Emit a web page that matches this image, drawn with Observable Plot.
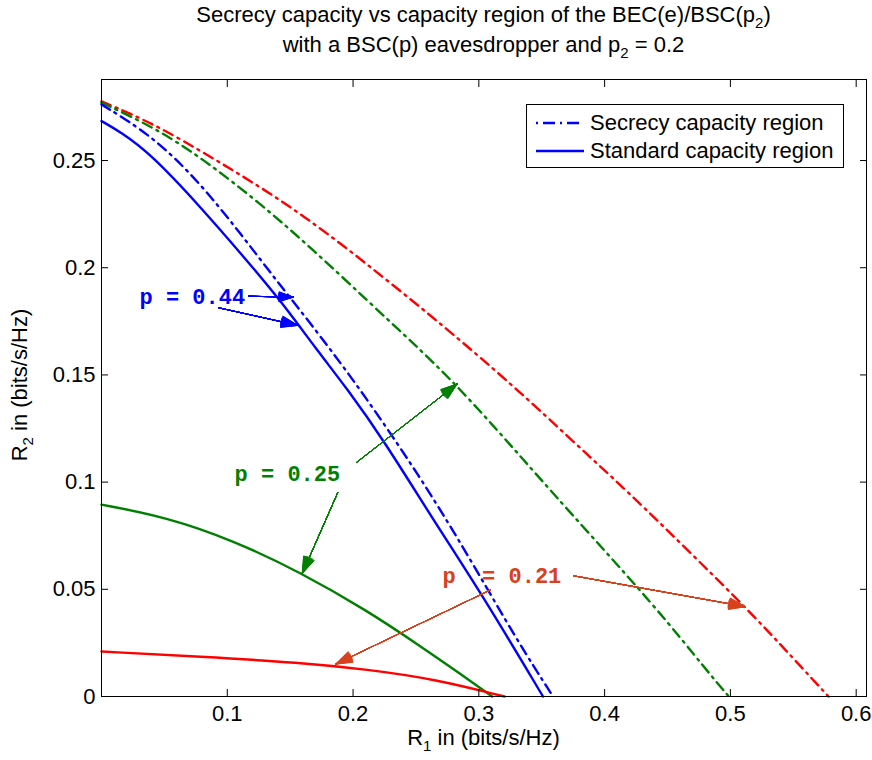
<!DOCTYPE html>
<html>
<head>
<meta charset="utf-8">
<script src="https://cdn.jsdelivr.net/npm/d3@7"></script>
<script src="https://cdn.jsdelivr.net/npm/@observablehq/plot@0.6"></script>
<style>
  body { margin: 0; background: #fff; }
  #wrap { position: relative; width: 872px; height: 760px; font-family: "Liberation Sans", Arial, sans-serif; color: #000; background: #fff; overflow: hidden; }
  .t { position: absolute; left: 0; width: 967px; text-align: center; font-size: 22px; line-height: 24px; white-space: nowrap; }
  sub { font-size: 15px; vertical-align: -6px; line-height: 0; }
  #chart { position: absolute; left: 0; top: 62px; }
  #legend { position: absolute; left: 526px; top: 104px; width: 318px; height: 64px; border: 1px solid #000; background: #fff; box-sizing: border-box; }
  #legend .row { position: absolute; left: 0; height: 26px; line-height: 26px; font-size: 22px; white-space: nowrap; }
  #legend svg { position: absolute; left: 9px; top: 7px; }
  #legend span { position: absolute; left: 63px; top: 0; }
  #ylab { position: absolute; left: -80px; top: 373px; width: 200px; height: 24px; line-height: 24px; text-align: center; font-size: 22px; transform: rotate(-90deg); transform-origin: 50% 50%; white-space: nowrap; }
</style>
</head>
<body>
<div id="wrap">
  <div class="t" style="top:3px">Secrecy capacity vs capacity region of the BEC(e)/BSC(p<sub>2</sub>)</div>
  <div class="t" style="top:33px">with a BSC(p) eavesdropper and p<sub>2</sub> = 0.2</div>
  <div id="chart"></div>
  <div class="t" style="top:726px">R<sub>1</sub> in (bits/s/Hz)</div>
  <div id="ylab">R<sub>2</sub> in (bits/s/Hz)</div>
  <div id="legend">
    <div class="row" style="top:5px">
      <svg width="50" height="12"><line x1="0" y1="6" x2="48" y2="6" stroke="#0000ff" stroke-width="2.3" stroke-dasharray="2,5,12,5"/></svg>
      <span>Secrecy capacity region</span>
    </div>
    <div class="row" style="top:33px">
      <svg width="50" height="12"><line x1="0" y1="6" x2="48" y2="6" stroke="#0000ff" stroke-width="2.3"/></svg>
      <span>Standard capacity region</span>
    </div>
  </div>
</div>
<script>
// ---- tick values ----
const xTicks = [0.1, 0.2, 0.3, 0.4, 0.5, 0.6];
const yTicks = [0, 0.05, 0.1, 0.15, 0.2, 0.25];

// ---- secrecy capacity regions (dash-dot) ----
const secRedX   = [0, 0.0417, 0.0893, 0.137, 0.1821, 0.2272, 0.2696, 0.3119, 0.3517, 0.3914, 0.4219, 0.512, 0.5504, 0.578];
const secRedY   = [0.2776, 0.2672, 0.2509, 0.2338, 0.2151, 0.1941, 0.1739, 0.1528, 0.1318, 0.110, 0.0937, 0.0419, 0.0175, 0];
const secGreenX = [0, 0.0417, 0.0788, 0.1265, 0.1688, 0.2113, 0.2457, 0.2828, 0.3290, 0.3676, 0.4418, 0.4816, 0.4987];
const secGreenY = [0.2770, 0.2655, 0.2516, 0.2299, 0.2081, 0.1847, 0.1660, 0.1451, 0.1148, 0.0890, 0.0410, 0.0118, 0];
const secBlueX  = [0, 0.0417, 0.0788, 0.1106, 0.137, 0.1636, 0.2033, 0.2537, 0.2908, 0.3305, 0.359];
const secBlueY  = [0.2762, 0.2610, 0.2392, 0.2159, 0.1956, 0.1760, 0.1455, 0.1022, 0.0665, 0.0260, 0];

// ---- standard capacity regions (solid) ----
const stdBlueX  = [0, 0.0152, 0.039, 0.0788, 0.1132, 0.1424, 0.1715, 0.1954, 0.2245, 0.2642, 0.304, 0.351];
const stdBlueY  = [0.2684, 0.2633, 0.2532, 0.2283, 0.2050, 0.1847, 0.1614, 0.1435, 0.1194, 0.0820, 0.0462, 0];
const stdGreenX = [0, 0.0523, 0.1052, 0.1583, 0.2113, 0.251, 0.2855, 0.3106];
const stdGreenY = [0.0895, 0.0836, 0.0727, 0.0579, 0.0400, 0.0245, 0.0105, 0];
const stdRedX   = [0, 0.0788, 0.1583, 0.2113, 0.2642, 0.3204];
const stdRedY   = [0.0210, 0.0186, 0.0158, 0.0126, 0.0082, 0];

// ---- annotations ----
const annText  = ["p = 0.44", "p = 0.25", "p\u00a0 = 0.21"];
const annX     = [0.0302, 0.1058, 0.2711];
const annY     = [0.1865, 0.1036, 0.0563];
const annColor = ["#0000ff", "#008000", "#d9401c"];
// arrows (start -> tip) and the annotation they belong to
const arrX1  = [0.1169, 0.0933, 0.2028, 0.1879, 0.3093, 0.3753];
const arrY1  = [0.1867, 0.1813, 0.1092, 0.0952, 0.0497, 0.0563];
const arrX2  = [0.1525, 0.1561, 0.2828, 0.1596, 0.1861, 0.5120];
const arrY2  = [0.1863, 0.1731, 0.1458, 0.0574, 0.0151, 0.0419];
const arrAnn = [0, 0, 1, 1, 2, 2];

const BLUE = "#0000ff", GREEN = "#008000", RED = "#ff0000";
const DASHDOT = "10,5.5,2,5.5";
const LW = 2.4;

const pts = (xs, ys) => xs.map((x, i) => ({x, y: ys[i]}));

const curves = [
  {d: pts(secRedX, secRedY), c: RED, dash: DASHDOT},
  {d: pts(secGreenX, secGreenY), c: GREEN, dash: DASHDOT},
  {d: pts(secBlueX, secBlueY), c: BLUE, dash: DASHDOT},
  {d: pts(stdBlueX, stdBlueY), c: BLUE, dash: null},
  {d: pts(stdGreenX, stdGreenY), c: GREEN, dash: null},
  {d: pts(stdRedX, stdRedY), c: RED, dash: null}
];

const lineMarks = curves.map(({d, c, dash}) =>
  Plot.line(d, {x: "x", y: "y", stroke: c, strokeWidth: LW, strokeDasharray: dash || undefined, curve: "basis"})
);

const arrows = arrX1.map((x1, i) => ({x1, y1: arrY1[i], x2: arrX2[i], y2: arrY2[i], k: arrAnn[i]}));
const arrowMarks = [];
annColor.forEach((col, k) => {
  const data = arrows.filter(a => a.k === k);
  for (let a = 0; a <= 40; a += 3) {
    arrowMarks.push(Plot.arrow(data, {x1: "x1", y1: "y1", x2: "x2", y2: "y2", stroke: col, strokeWidth: 1, headAngle: a, headLength: 26}));
  }
});

const textMarks = annText.map((t, k) =>
  Plot.text([{x: annX[k], y: annY[k], t}], {x: "x", y: "y", text: "t", fill: annColor[k], textAnchor: "start",
    fontFamily: "Liberation Mono, Courier New, monospace", fontWeight: "bold", fontSize: 22})
);

const plot = Plot.plot({
  width: 872,
  height: 698,
  marginLeft: 101,
  marginRight: 6,
  marginTop: 17,
  marginBottom: 64,
  x: {domain: [0, 0.6082]},
  y: {domain: [0, 0.2878]},
  style: {fontFamily: "Liberation Sans, Arial, sans-serif", fontSize: "22px", background: "white", color: "black", overflow: "visible"},
  marks: [
    ...lineMarks,
    ...arrowMarks,
    ...textMarks,
    Plot.axisX(xTicks, {anchor: "bottom", tickSize: 0, tickPadding: 9, tickFormat: d => String(d), label: null}),
    Plot.axisX(xTicks, {anchor: "bottom", tickSize: -7, tickFormat: () => "", label: null}),
    Plot.axisX(xTicks, {anchor: "top", tickSize: -7, tickFormat: () => "", label: null}),
    Plot.axisY(yTicks, {anchor: "left", tickSize: 0, tickPadding: 6, tickFormat: d => String(d), label: null}),
    Plot.axisY(yTicks, {anchor: "left", tickSize: -7, tickFormat: () => "", label: null}),
    Plot.axisY(yTicks, {anchor: "right", tickSize: -7, tickFormat: () => "", label: null}),
    Plot.frame({stroke: "black", strokeWidth: 1})
  ]
});
document.getElementById("chart").appendChild(plot);
</script>
</body>
</html>
